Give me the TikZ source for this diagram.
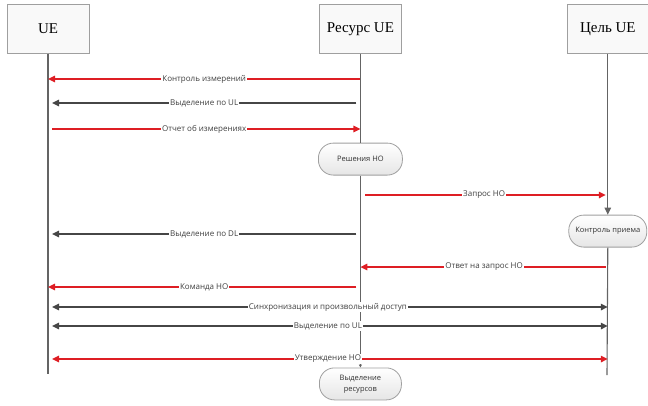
\documentclass[tikz,border=0pt]{standalone}
\usepackage{fontspec}
\setmainfont{Liberation Serif}
\newfontfamily\msgfont{Open Sans}
\usetikzlibrary{positioning}
\usetikzlibrary{arrows.meta}

\definecolor{msgred}{RGB}{222,30,36}
\definecolor{msggray}{RGB}{70,70,70}
\definecolor{lifegray}{RGB}{100,100,100}

\tikzset{
  lifebox/.style={draw=gray!75, fill=gray!5, minimum width=82pt, minimum height=49pt,
    inner sep=2pt, font=\fontsize{15}{17}\selectfont},
  procbox/.style={draw=gray!75, line width=0.8pt, rounded corners=15pt, top color=white,
    bottom color=gray!20, minimum height=32pt, align=center, text=black!80,
    font=\msgfont\fontsize{7.5}{11}\selectfont},
  lifeline/.style={draw=lifegray, line width=1.1pt},
  tip/.style={-{Triangle[length=7pt,width=6.5pt]}},
  redmsg/.style={draw=msgred, line width=1.5pt, tip},
  graymsg/.style={draw=msggray, line width=1.5pt, tip, shorten >=4pt, shorten <=4pt},
  msglabel/.style={fill=white, inner sep=1pt, text=black!75,
    font=\msgfont\fontsize{8}{10}\selectfont}
}

\begin{document}
\begin{tikzpicture}[x=1pt, y=-1pt]
    \useasboundingbox (0,0) rectangle (648,405);

    % участники
    \node[lifebox] (ue) at (48,29) {UE};
    \node[lifebox, right=230pt of ue] (res) {Ресурс UE};
    \node[lifebox, right=165pt of res] (tgt) {Цель UE};

    % процессы
    \node[procbox, minimum width=84pt, below=89pt of res] (decide) {Решения HO};
    \node[procbox, minimum width=78pt, below=161pt of tgt] (admit) {Контроль приема};
    \node[procbox, minimum width=82pt, below=192pt of decide] (alloc) {Выделение\\ресурсов};

    \coordinate (ueEnd) at (48,374);
    \coordinate (tgtEnd) at (607,375);

    % линии жизни
    \draw[lifeline] (ue.south) -- (ueEnd);
    \draw[lifeline] (res.south) -- (decide.north);
    \draw[lifeline, -{Triangle[length=3pt,width=3pt]}] (decide.south) -- (alloc.north);
    \draw[lifeline, -{Triangle[length=7pt,width=6.5pt]}] (tgt.south) -- (admit.north);
    \draw[lifeline] (admit.south) -- (tgtEnd);

    % строки сообщений
    \coordinate (row1) at (0,79);
    \coordinate (row2) at (0,103);
    \coordinate (row3) at (0,129);
    \coordinate (row4) at (0,195);
    \coordinate (row5) at (0,234);
    \coordinate (row6) at (0,267);
    \coordinate (row7) at (0,287);
    \coordinate (row8) at (0,307);
    \coordinate (row9) at (0,326);
    \coordinate (row10) at (0,359);

    % сообщения
    \draw[redmsg] (res |- row1) -- node[msglabel] {Контроль измерений} (ue |- row1);
    \draw[graymsg] (res |- row2) -- node[msglabel] {Выделение по UL} (ue |- row2);
    \draw[redmsg, shorten <=4pt] (ue |- row3) -- node[msglabel] {Отчет об измерениях} (res |- row3);
    \draw[redmsg, shorten <=5pt, shorten >=2pt] (res |- row4) -- node[msglabel] {Запрос HO} (tgt |- row4);
    \draw[graymsg] (res |- row5) -- node[msglabel] {Выделение по DL} (ue |- row5);
    \draw[redmsg, shorten <=2pt] (tgt |- row6) -- node[msglabel] {Ответ на запрос HO} (res |- row6);
    \draw[redmsg, shorten <=4pt] (res |- row7) -- node[msglabel] {Команда HO} (ue |- row7);
    \draw[graymsg, {Triangle[length=7pt,width=6.5pt]}-{Triangle[length=7pt,width=6.5pt]}, shorten >=0pt]
      (ue |- row8) -- node[msglabel] {Синхронизация и произвольный доступ} (tgt |- row8);
    \draw[graymsg, {Triangle[length=7pt,width=6.5pt]}-{Triangle[length=7pt,width=6.5pt]}, shorten >=0pt]
      (ue |- row9) -- node[msglabel] {Выделение по UL} (tgt |- row9);
    \draw[redmsg, {Triangle[length=7pt,width=6.5pt]}-{Triangle[length=7pt,width=6.5pt]}, shorten <=4pt]
      (ue |- row10) -- node[msglabel] {Утверждение HO} (tgt |- row10);

\end{tikzpicture}
\end{document}
